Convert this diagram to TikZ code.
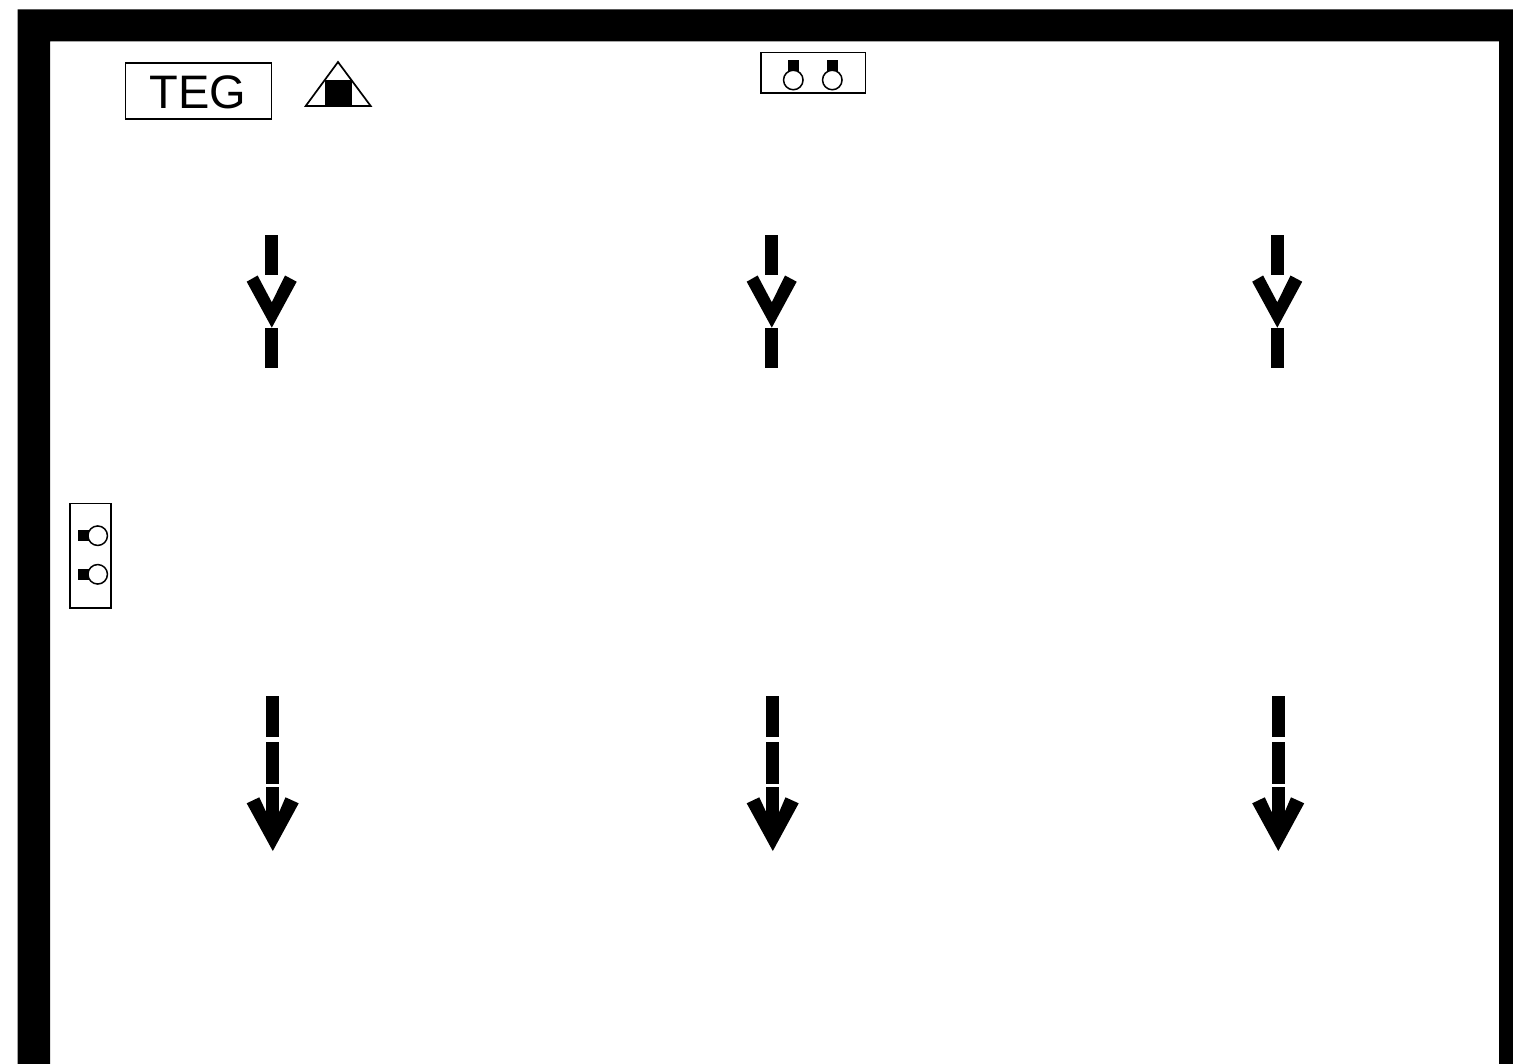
\documentclass[tikz,border=0pt]{standalone}
\usepackage{fontspec}
\setmainfont{Liberation Sans}
\tikzset{
  labelbox/.style={draw=black,line width=1.5pt,inner sep=0pt,outer sep=0pt},
  lampbulb/.style={draw=black,fill=white,circle,line width=1.5pt,inner sep=0pt,minimum size=19.5pt},
  lampbase/.style={fill=black,inner sep=0pt,outer sep=0pt}
}
\begin{document}
\begin{tikzpicture}[x=1pt,y=-1pt]
\useasboundingbox (0,0) rectangle (1513,1064);
\fill [black,even odd rule] (17.5,9.5) rectangle (1513,1064) (50,41.5) rectangle (1499,1064);
\node (tegbox) [labelbox,anchor=north west,minimum width=146.4pt,minimum height=56pt] at (125.3,63) {};
\node (teg) at (198,92) {\fontsize{47}{50}\selectfont TEG};
\draw [black,line width=1.7pt] (338,62) -- (370.7,106) -- (305.7,106) -- cycle;
\fill [black] (325,80) rectangle (351.7,106);
\node (topbox) [labelbox,anchor=north west,minimum width=104.5pt,minimum height=40.7pt] at (761,52.5) {};
\foreach \lx/\lname in {793.3/a,832.3/b}
{
\node (base\lname) [lampbase,minimum width=11pt,minimum height=12pt] at (\lx,66) {};
\node (bulb\lname) [lampbulb] at (\lx,80) {};
}
\node (sidebox) [labelbox,anchor=north west,minimum width=41pt,minimum height=104.7pt] at (70,503.3) {};
\foreach \ly/\lname in {535.7/c,574.3/d}
{
\node (base\lname) [lampbase,minimum width=11pt,minimum height=11pt] at (83,\ly) {};
\node (bulb\lname) [lampbulb] at (97.7,\ly) {};
}
\foreach \colx in {0,500,1005.5}
{
\begin{scope}[shift={(\colx,0)}]
\fill [black] (265,235) rectangle (278.3,275);
\fill [black] (246.7,281.7) -- (257.6,275.5) -- (271.8,302.3) -- (285,275.5) -- (296.7,281.7) -- (271.8,327.7) -- cycle;
\fill [black] (265,327.7) rectangle (278.3,368.5);
\fill [black] (266,696) rectangle (279.3,737);
\fill [black] (266,741.5) rectangle (279.3,784);
\fill [black] (266,786.5) rectangle (279.3,815);
\fill [black] (246.7,803.3) -- (259.3,797.3) -- (266,811.7) -- (279.3,811.7) -- (285.5,797.3) -- (298.7,803.3) -- (272.8,851) -- cycle;
\end{scope}
}
\end{tikzpicture}
\end{document}
